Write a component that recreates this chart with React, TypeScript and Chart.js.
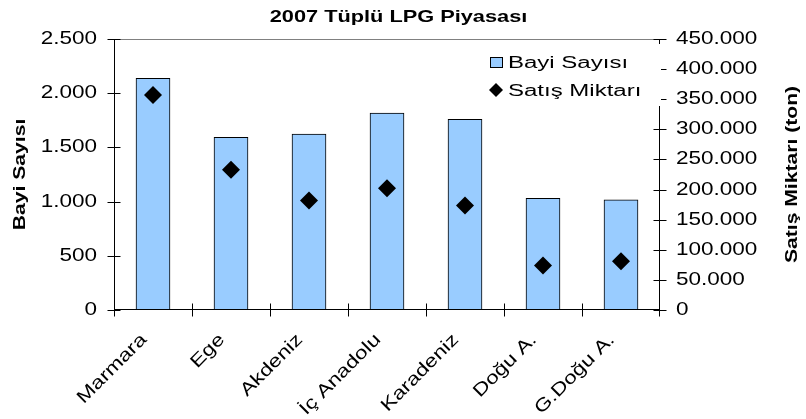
import React, { useEffect, useRef } from "react";
import { Chart, registerables } from "chart.js";

Chart.register(...registerables);

// ---- DATA ----
const categories = ["Marmara", "Ege", "Akdeniz", "İç Anadolu", "Karadeniz", "Doğu A.", "G.Doğu A."];
const bayiSayisi = [2138, 1594, 1622, 1816, 1760, 1031, 1017];
const satisMiktari = [357000, 232800, 181800, 202300, 173500, 73900, 81000];
const titleText = "2007 Tüplü LPG Piyasası";
const leftAxisTitle = "Bayi Sayısı";
const rightAxisTitle = "Satış Miktarı (ton)";
const seriesNames = ["Bayi Sayısı", "Satış Miktarı"];
const leftRange = [0, 2500, 500];
const rightRange = [0, 450000, 50000];

const FONT = '"Liberation Sans", Arial, sans-serif';
const BAR_FILL = "#99CCFF";

function fmt(v: number): string {
  return String(Math.round(v)).replace(/\B(?=(\d{3})+(?!\d))/g, ".");
}

function txt(
  ctx: CanvasRenderingContext2D,
  s: string,
  x: number,
  y: number,
  o: { size: number; bold?: boolean; align: CanvasTextAlign; baseline: CanvasTextBaseline; rot?: number; sx?: number }
) {
  ctx.save();
  ctx.translate(x, y);
  if (o.rot) ctx.rotate(o.rot);
  ctx.scale(o.sx ?? 1, 1);
  ctx.font = `${o.bold ? "bold " : ""}${o.size}px ${FONT}`;
  ctx.textAlign = o.align;
  ctx.textBaseline = o.baseline;
  ctx.fillStyle = "#000";
  ctx.fillText(s, 0, 0);
  ctx.restore();
}

const decorPlugin = {
  id: "decor",
  afterDatasetsDraw(chart: any) {
    const ctx: CanvasRenderingContext2D = chart.ctx;
    const { left, right, top, bottom } = chart.chartArea;
    const x = chart.scales.x;
    const y = chart.scales.y;
    const y1 = chart.scales.y1;
    const L = Math.round(left) + 0.5;
    const R = Math.round(right) - 0.5;
    const T = Math.round(top) + 0.5;
    const B = Math.round(bottom) - 0.5;
    ctx.save();
    // top border
    ctx.strokeStyle = "#808080";
    ctx.lineWidth = 1;
    ctx.beginPath();
    ctx.moveTo(L, T);
    ctx.lineTo(R, T);
    ctx.stroke();
    // axes
    ctx.strokeStyle = "#000";
    ctx.beginPath();
    ctx.moveTo(L, T);
    ctx.lineTo(L, B);
    ctx.moveTo(R, T);
    ctx.lineTo(R, B);
    ctx.moveTo(L, B);
    ctx.lineTo(R, B);
    // left ticks
    y.ticks.forEach((t: any) => {
      const py = Math.round(y.getPixelForValue(t.value)) + 0.5;
      ctx.moveTo(L - 7, py);
      ctx.lineTo(L + 6, py);
    });
    // right ticks
    y1.ticks.forEach((t: any) => {
      const py = Math.round(y1.getPixelForValue(t.value)) + 0.5;
      ctx.moveTo(R - 6, py);
      ctx.lineTo(R + 7, py);
    });
    // x ticks at category boundaries
    for (let i = 0; i <= categories.length; i++) {
      let px = Math.round(x.getPixelForValue(i - 0.5)) + 0.5;
      if (i === categories.length) px = R;
      ctx.moveTo(px, B - 6);
      ctx.lineTo(px, B + 7);
    }
    ctx.stroke();
    ctx.restore();

    // tick labels
    y.ticks.forEach((t: any) => {
      txt(ctx, fmt(t.value), left - 17, y.getPixelForValue(t.value), { size: 18, align: "right", baseline: "middle", sx: 1.25 });
    });
    y1.ticks.forEach((t: any) => {
      txt(ctx, fmt(t.value), right + 16, y1.getPixelForValue(t.value), { size: 18, align: "left", baseline: "middle", sx: 1.25 });
    });
    categories.forEach((c, i) => {
      const px = x.getPixelForValue(i);
      txt(ctx, c, px - 9, bottom + 27, { size: 18, align: "right", baseline: "middle", rot: -Math.PI / 4, sx: 1.25 });
    });

    // titles
    txt(ctx, titleText, 398.5, 22, { size: 17, bold: true, align: "center", baseline: "alphabetic", sx: 1.28 });
    const midY = (top + bottom) / 2;
    txt(ctx, leftAxisTitle, 25, midY, { size: 16.5, bold: true, align: "center", baseline: "alphabetic", rot: -Math.PI / 2, sx: 1.28 });
    txt(ctx, rightAxisTitle, 797, midY, { size: 16.5, bold: true, align: "center", baseline: "alphabetic", rot: -Math.PI / 2, sx: 1.28 });

    // legend (inside plot, upper right)
    ctx.save();
    ctx.fillStyle = "#fff";
    ctx.fillRect(478, 44, R + 1.5 - 478, 62);
    ctx.fillStyle = BAR_FILL;
    ctx.strokeStyle = "#000";
    ctx.lineWidth = 1;
    ctx.fillRect(490.5, 57.5, 12, 10);
    ctx.strokeRect(490.5, 57.5, 12, 10);
    ctx.fillStyle = "#000";
    ctx.beginPath();
    ctx.moveTo(496, 83);
    ctx.lineTo(503, 90);
    ctx.lineTo(496, 97);
    ctx.lineTo(489, 90);
    ctx.closePath();
    ctx.fill();
    ctx.restore();
    txt(ctx, seriesNames[0], 508, 68, { size: 16, align: "left", baseline: "alphabetic", sx: 1.5 });
    txt(ctx, seriesNames[1], 508, 96, { size: 16, align: "left", baseline: "alphabetic", sx: 1.5 });
  },
};

export default function App() {
  const ref = useRef<HTMLCanvasElement | null>(null);
  useEffect(() => {
    if (!ref.current) return;
    const chart = new Chart(ref.current, {
      type: "bar",
      data: {
        labels: categories,
        datasets: [
          {
            type: "line",
            label: seriesNames[1],
            data: satisMiktari,
            yAxisID: "y1",
            showLine: false,
            pointStyle: "rectRot",
            pointRadius: 9,
            pointBackgroundColor: "#000",
            pointBorderColor: "#000",
            pointBorderWidth: 0,
            order: 1,
          } as any,
          {
            type: "bar",
            label: seriesNames[0],
            data: bayiSayisi,
            yAxisID: "y",
            backgroundColor: BAR_FILL,
            borderColor: "#000",
            borderWidth: 1,
            borderSkipped: false,
            barThickness: 34,
            order: 2,
          } as any,
        ],
      },
      options: {
        responsive: false,
        animation: false,
        devicePixelRatio: 1,
        layout: { padding: { left: 114, right: 146, top: 39, bottom: 109 } },
        plugins: { legend: { display: false }, title: { display: false }, tooltip: { enabled: false } },
        scales: {
          x: { display: false, offset: true },
          y: { display: false, min: leftRange[0], max: leftRange[1], ticks: { stepSize: leftRange[2] } },
          y1: { display: false, position: "right", min: rightRange[0], max: rightRange[1], ticks: { stepSize: rightRange[2] } },
        },
      },
      plugins: [decorPlugin],
    });
    return () => chart.destroy();
  }, []);
  return (
    <div style={{ position: "absolute", left: 0, top: 0, width: 806, height: 419, background: "#fff" }}>
      <canvas ref={ref} width={806} height={419} style={{ width: 806, height: 419, display: "block" }} />
    </div>
  );
}
